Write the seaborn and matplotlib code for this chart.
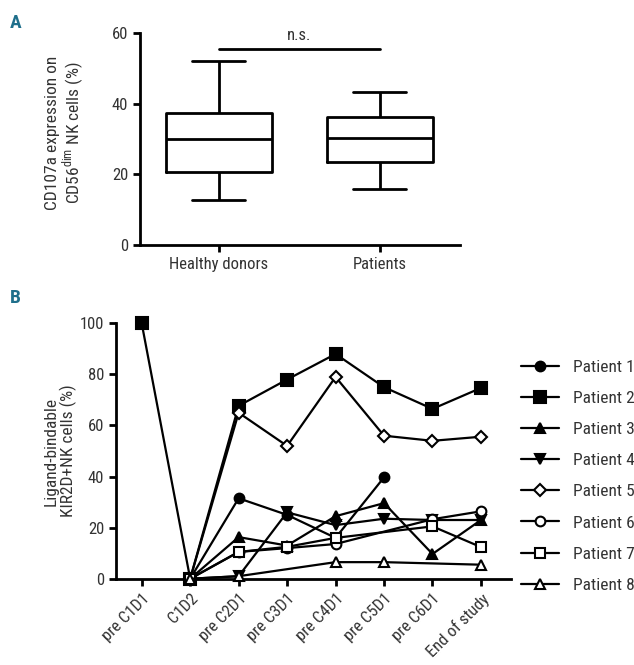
import numpy as np
import pandas as pd
import matplotlib
matplotlib.use("Agg")
import matplotlib.pyplot as plt
import seaborn as sns

sns.set_theme(style="ticks")
plt.rcParams['font.family'] = ['Roboto Condensed', 'DejaVu Sans']
plt.rcParams['mathtext.fontset'] = 'custom'
plt.rcParams['mathtext.rm'] = 'Roboto Condensed'

# panel A: five-number summaries (min, Q1, median, Q3, max)
groups = ['Healthy donors', 'Patients']
healthy_box = [12.7, 20.7, 30.0, 37.3, 52.1]
patient_box = [15.8, 23.6, 30.4, 36.3, 43.2]
ns_level = 55.4

# panel B
timepoints = ['pre C1D1', 'C1D2', 'pre C2D1', 'pre C3D1', 'pre C4D1',
              'pre C5D1', 'pre C6D1', 'End of study']
nan = np.nan
patient1 = [nan, 0, 31.5, 25.0, 16.0, 39.7, nan, nan]
patient2 = [100, 0, 67.7, 78.0, 88.0, 75.0, 66.5, 74.7]
patient3 = [nan, 0, 16.3, 13.0, 24.5, 29.6, 9.7, 23.0]
patient4 = [nan, 0, 1.0, 26.0, 21.0, 23.5, 23.0, 23.0]
patient5 = [nan, 0, 65.0, 52.0, 79.0, 56.0, 54.0, 55.6]
patient6 = [nan, 0, 10.5, 12.0, 13.6, nan, 23.3, 26.4]
patient7 = [nan, 0, 10.5, 12.5, 16.0, nan, 20.5, 12.4]
patient8 = [nan, 0, 1.0, nan, 6.5, 6.5, nan, 5.5]
patient_names = ['Patient 1', 'Patient 2', 'Patient 3', 'Patient 4',
                 'Patient 5', 'Patient 6', 'Patient 7', 'Patient 8']
patient_values = [patient1, patient2, patient3, patient4,
                  patient5, patient6, patient7, patient8]

# marker, filled?, size
styles = [('o', True, 7), ('s', True, 8), ('^', True, 7), ('v', True, 7),
          ('D', False, 6), ('o', False, 7), ('s', False, 7), ('^', False, 7)]

fig = plt.figure(figsize=(6.34, 6.65), dpi=100)

# ---------------- panel A ----------------
axA = fig.add_axes([0.221, 0.632, 0.505, 0.318])
box_df = pd.DataFrame({
    'group': [groups[0]] * len(healthy_box) + [groups[1]] * len(patient_box),
    'value': healthy_box + patient_box,
})
sns.boxplot(data=box_df, x='group', y='value', order=groups, whis=(0, 100),
            width=0.66, fill=False, color='black', linecolor='black',
            linewidth=2, ax=axA)
axA.set_ylim(0, 60)
axA.set_xlim(-0.49, 1.5)
axA.set_yticks([0, 20, 40, 60])
axA.set_xlabel('')
axA.set_ylabel('CD107a expression on\nCD56$^{\\mathrm{dim}}$ NK cells (%)',
               fontsize=12.5, color='#333333', linespacing=1.05)
axA.yaxis.set_label_coords(-0.165, 0.53)
axA.plot([0, 1], [ns_level, ns_level], color='black', lw=2, clip_on=False)
axA.text(0.5, 59.5, 'n.s.', ha='center', va='center', fontsize=12, color='#333333')
sns.despine(ax=axA)
for sp in ['left', 'bottom']:
    axA.spines[sp].set_linewidth(2)
    axA.spines[sp].set_color('black')
axA.tick_params(axis='both', width=2, length=5, labelsize=12, colors='black',
                labelcolor='#333333')

# ---------------- panel B ----------------
axB = fig.add_axes([0.183, 0.1297, 0.623, 0.3841])
x_pos = np.arange(len(timepoints))
for name, vals, (mk, filled, ms) in zip(patient_names, patient_values, styles):
    d = pd.DataFrame({'x': x_pos, 'y': vals}).dropna()
    sns.lineplot(data=d, x='x', y='y', ax=axB, color='black', lw=1.6,
                 marker=mk, markersize=ms, markeredgecolor='black',
                 markeredgewidth=1.5,
                 markerfacecolor='black' if filled else 'white',
                 label=name, sort=False, clip_on=False, zorder=3)

axB.set_xlim(-0.53, 7.62)
axB.set_ylim(0, 100)
axB.set_yticks([0, 20, 40, 60, 80, 100])
axB.set_xticks(x_pos)
axB.set_xticklabels(timepoints, rotation=45, ha='right', rotation_mode='anchor')
axB.set_xlabel('')
axB.set_ylabel('Ligand-bindable\nKIR2D+NK cells (%)', fontsize=12.5,
               color='#333333', linespacing=1.05)
axB.yaxis.set_label_coords(-0.1, 0.5)
sns.despine(ax=axB)
for sp in ['left', 'bottom']:
    axB.spines[sp].set_linewidth(2)
    axB.spines[sp].set_color('black')
axB.tick_params(axis='both', width=2, length=5, labelsize=12, colors='black',
                labelcolor='#333333')

handles, labels = axB.get_legend_handles_labels()
axB.legend_.remove()
fig.legend(handles, labels, loc='upper left', bbox_to_anchor=(0.822, 0.459),
           frameon=False, fontsize=12.5, handlelength=2.2, handletextpad=0.8,
           labelspacing=0.92, borderpad=0, borderaxespad=0, labelcolor='#333333')

# panel letters
fig.text(0.016, 0.966, 'A', fontsize=14, fontweight='bold', color='#1f6f8b',
         ha='left', va='center')
fig.text(0.016, 0.552, 'B', fontsize=14, fontweight='bold', color='#1f6f8b',
         ha='left', va='center')

fig.savefig('out.png', dpi=100)
